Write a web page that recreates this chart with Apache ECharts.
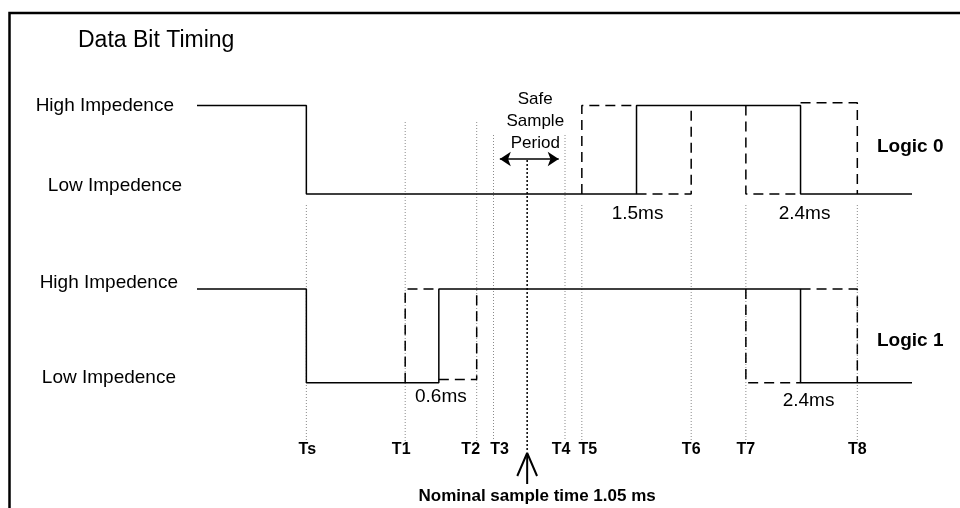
<!DOCTYPE html>
<html>
<head>
<meta charset="utf-8">
<script src="https://cdn.jsdelivr.net/npm/echarts@6/dist/echarts.min.js"></script>
<style>
  html, body { margin: 0; padding: 0; background: #fff; }
  #chart { width: 960px; height: 508px; }
</style>
</head>
<body>
<div id="chart"></div>
<script>
  // time markers, in ms from Ts
  const markerNames = ['Ts', 'T1', 'T2', 'T3', 'T4', 'T5', 'T6', 'T7', 'T8'];
  const markerTimes = [0, 0.47, 0.81, 0.89, 1.23, 1.31, 1.83, 2.09, 2.62];
  const nominalTime = 1.05;
  const safePeriod = [0.92, 1.2];

  // signal edges (1 = high impedence, 0 = low impedence)
  const logic0Times = [-0.52, 0, 1.57, 2.35, 2.88];
  const logic0Levels = [1, 0, 1, 0, 0];
  const logic1Times = [-0.52, 0, 0.63, 2.35, 2.88];
  const logic1Levels = [1, 0, 1, 0, 0];

  // dashed tolerance windows
  const logic0Windows = [
    [[1.31, 0], [1.31, 1], [1.57, 1]],
    [[1.57, 0], [1.83, 0], [1.83, 1]],
    [[2.09, 1], [2.09, 0], [2.35, 0]],
    [[2.35, 1.03], [2.62, 1.03], [2.62, 0]]
  ];
  const logic1Windows = [
    [[0.47, 0], [0.47, 1], [0.63, 1]],
    [[0.63, 0.035], [0.81, 0.035], [0.81, 1]],
    [[2.09, 1], [2.09, 0], [2.35, 0]],
    [[2.35, 1], [2.62, 1], [2.62, 0]]
  ];

  // edge duration labels
  const edgeLabels = ['1.5ms', '2.4ms', '0.6ms', '2.4ms'];
  const edgeTimes = [1.57, 2.35, 0.63, 2.35];

  const FONT = '"Liberation Sans", Arial, sans-serif';
  const xMin = -0.52, xMax = 2.88;

  function stepPoints(times, levels) {
    const pts = [[times[0], levels[0]]];
    for (let i = 1; i < times.length; i++) {
      pts.push([times[i], levels[i - 1]]);
      pts.push([times[i], levels[i]]);
    }
    return pts;
  }

  const solid = { color: '#000', width: 1.5 };
  const dashed = { color: '#000', width: 1.5, type: [10, 6] };

  function traceSeries(idx, times, levels, windows) {
    const list = [{
      type: 'line', xAxisIndex: idx, yAxisIndex: idx,
      data: stepPoints(times, levels), symbol: 'none', clip: false,
      lineStyle: solid, silent: true, animation: false
    }];
    windows.forEach(w => list.push({
      type: 'line', xAxisIndex: idx, yAxisIndex: idx,
      data: w, symbol: 'none', clip: false,
      lineStyle: dashed, silent: true, animation: false
    }));
    return list;
  }

  // layout of the overlay (y in pixels)
  const guideTop = [205, 122, 122, 135, 135, 205, 205, 205, 205];
  const guideBottom = 441;
  const labelOffsets = [[1, 0], [-4, 0], [-6, 0], [6, 0], [-4, 0], [6, 0], [0, 0], [0, 0], [0, 0]];
  const edgeY = [214, 214, 397, 401];
  const edgeOffsets = [[1, 0], [4, 0], [2, 0], [8, 0]];

  const series = [];
  series.push(...traceSeries(0, logic0Times, logic0Levels, logic0Windows));
  series.push(...traceSeries(1, logic1Times, logic1Levels, logic1Windows));

  markerTimes.forEach((t, i) => series.push({
    type: 'line', xAxisIndex: 2, yAxisIndex: 2,
    data: [[t, guideTop[i]], [t, guideBottom]], symbol: 'none',
    lineStyle: { color: '#8a8a8a', width: 1, type: [1, 2] },
    silent: true, animation: false, z: 1
  }));

  // nominal sample line and arrow
  series.push({
    type: 'line', xAxisIndex: 2, yAxisIndex: 2,
    data: [[nominalTime, 160], [nominalTime, 452]], symbol: 'none',
    lineStyle: { color: '#000', width: 1.5, type: [2, 2] },
    silent: true, animation: false
  });
  series.push({
    type: 'line', xAxisIndex: 2, yAxisIndex: 2,
    data: [[nominalTime - 0.047, 476], [nominalTime, 453], [nominalTime + 0.047, 476]],
    symbol: 'none', lineStyle: { color: '#000', width: 2 },
    silent: true, animation: false
  });
  series.push({
    type: 'line', xAxisIndex: 2, yAxisIndex: 2,
    data: [[nominalTime, 454], [nominalTime, 484]], symbol: 'none',
    lineStyle: { color: '#000', width: 2 },
    silent: true, animation: false
  });

  // safe sample period double arrow
  series.push({
    type: 'line', xAxisIndex: 2, yAxisIndex: 2,
    data: [], symbol: 'none', silent: true, animation: false,
    markLine: {
      silent: true, animation: false,
      symbol: ['arrow', 'arrow'], symbolSize: [11, 11],
      label: { show: false },
      lineStyle: { color: '#000', width: 1.5, type: 'solid' },
      data: [[{ coord: [safePeriod[0], 159] }, { coord: [safePeriod[1], 159] }]]
    }
  });

  // text annotations
  const txt = (value, extra) => ({
    value: value,
    label: Object.assign({ color: '#000', fontFamily: FONT, textBorderWidth: 0 }, extra)
  });
  const texts = [];
  markerNames.forEach((n, i) => texts.push(txt([markerTimes[i], 450],
    { formatter: n, offset: labelOffsets[i], fontSize: 16, fontWeight: 'bold' })));
  edgeLabels.forEach((n, i) => texts.push(txt([edgeTimes[i], edgeY[i]],
    { formatter: n, offset: edgeOffsets[i], fontSize: 19 })));
  texts.push(txt([(safePeriod[0] + safePeriod[1]) / 2, 121],
    { formatter: 'Safe\nSample\nPeriod', fontSize: 17, lineHeight: 22, offset: [6, 0] }));
  texts.push(txt([nominalTime, 496],
    { formatter: 'Nominal sample time 1.05 ms', fontSize: 17, fontWeight: 'bold', offset: [10, 0] }));
  series.push({
    type: 'scatter', xAxisIndex: 2, yAxisIndex: 2,
    symbolSize: 0, itemStyle: { color: '#000', opacity: 1 },
    silent: true, animation: false,
    label: { show: true, position: 'inside', color: '#000', fontFamily: FONT },
    data: texts
  });

  function levelAxis(idx, hiStyle, loStyle) {
    return {
      type: 'value', gridIndex: idx, min: 0, max: 1, interval: 1,
      axisLine: { show: false }, axisTick: { show: false }, splitLine: { show: false },
      axisLabel: {
        margin: 15, color: '#000', fontFamily: FONT, fontSize: 19,
        showMinLabel: true, showMaxLabel: true,
        formatter: v => v === 1 ? '{' + hiStyle + '|High Impedence}' : '{' + loStyle + '|Low Impedence}',
        rich: {
          h0: { fontSize: 19, fontFamily: FONT, padding: [0, 8, 0, 0] },
          l0: { fontSize: 19, fontFamily: FONT, padding: [0, 0, 17, 0] },
          h1: { fontSize: 19, fontFamily: FONT, padding: [0, 4, 13, 0] },
          l1: { fontSize: 19, fontFamily: FONT, padding: [0, 6, 10, 0] }
        }
      }
    };
  }

  const timeAxis = idx => ({ type: 'value', gridIndex: idx, min: xMin, max: xMax, show: false });

  const chart = echarts.init(document.getElementById('chart'));
  chart.setOption({
    backgroundColor: '#fff',
    animation: false,
    title: [
      { text: 'Data Bit Timing', left: 73, top: 24,
        textStyle: { fontFamily: FONT, fontSize: 23, fontWeight: 'normal', color: '#000' } },
      { text: 'Logic 0', left: 872, top: 132,
        textStyle: { fontFamily: FONT, fontSize: 19, fontWeight: 'bold', color: '#000' } },
      { text: 'Logic 1', left: 872, top: 326,
        textStyle: { fontFamily: FONT, fontSize: 19, fontWeight: 'bold', color: '#000' } }
    ],
    grid: [
      { left: 197, right: 48, top: 105.5, bottom: 314 },
      { left: 197, right: 48, top: 289, bottom: 125.3 },
      { left: 197, right: 48, top: 0, bottom: 0 }
    ],
    xAxis: [timeAxis(0), timeAxis(1), timeAxis(2)],
    yAxis: [
      levelAxis(0, 'h0', 'l0'),
      levelAxis(1, 'h1', 'l1'),
      { type: 'value', gridIndex: 2, min: 0, max: 508, inverse: true, show: false }
    ],
    graphic: [{
      type: 'polyline', silent: true,
      shape: { points: [[9.5, 508], [9.5, 13], [960, 13]] },
      style: { stroke: '#000', lineWidth: 2.5, fill: null }
    }],
    series: series
  });
</script>
</body>
</html>
